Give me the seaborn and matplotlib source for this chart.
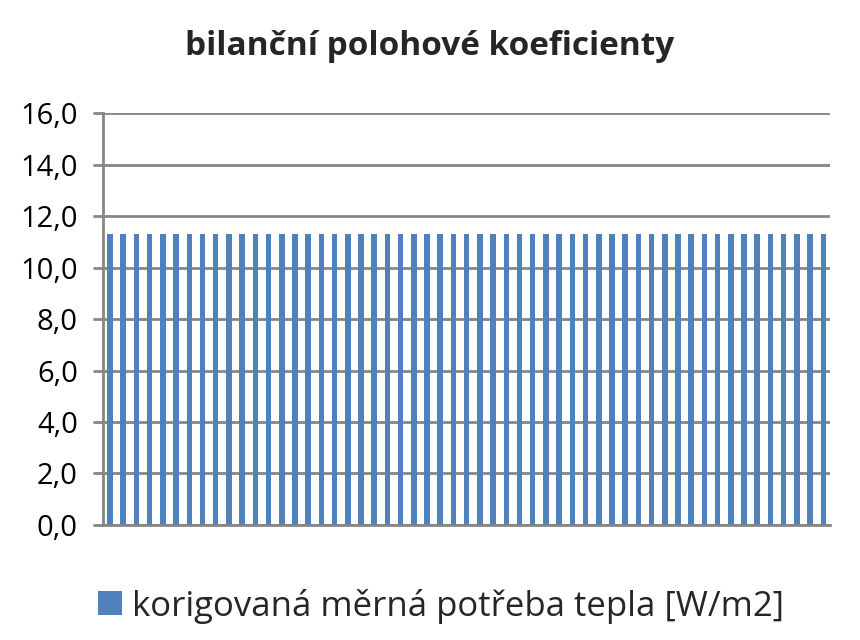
import matplotlib
matplotlib.use('Agg')
import matplotlib.pyplot as plt
import matplotlib.ticker as mticker
from matplotlib.patches import Patch
import seaborn as sns
import pandas as pd

# data: 55 categories, all the same value
categories = [str(i) for i in range(1, 56)]
values = [
    11.3, 11.3, 11.3, 11.3, 11.3, 11.3, 11.3, 11.3, 11.3, 11.3, 11.3,
    11.3, 11.3, 11.3, 11.3, 11.3, 11.3, 11.3, 11.3, 11.3, 11.3, 11.3,
    11.3, 11.3, 11.3, 11.3, 11.3, 11.3, 11.3, 11.3, 11.3, 11.3, 11.3,
    11.3, 11.3, 11.3, 11.3, 11.3, 11.3, 11.3, 11.3, 11.3, 11.3, 11.3,
    11.3, 11.3, 11.3, 11.3, 11.3, 11.3, 11.3, 11.3, 11.3, 11.3, 11.3,
]
series_name = 'korigovaná měrná potřeba tepla [W/m2]'
title = 'bilanční polohové koeficienty'
yticks = [0, 2, 4, 6, 8, 10, 12, 14, 16]

bar_color = '#4F81BD'
grid_color = '#868686'

sns.set_theme(style='white')
plt.rcParams['font.family'] = ['Open Sans', 'DejaVu Sans']

df = pd.DataFrame({'cat': categories, 'val': values})

fig = plt.figure(figsize=(8.6, 6.4), dpi=100)
ax = fig.add_axes([0.1203, 0.1797, 0.965 - 0.1203, 0.8234 - 0.1797])

sns.barplot(data=df, x='cat', y='val', color=bar_color, width=0.42,
            saturation=1, linewidth=0, ax=ax, zorder=3)

ax.set_xlim(-0.5, len(categories) - 0.5)
ax.set_ylim(0, 16)
ax.set_yticks(yticks)
ax.yaxis.set_major_formatter(mticker.FuncFormatter(lambda v, p: f'{v:.1f}'.replace('.', ',')))
ax.set_xticks([])
ax.set_xlabel('')
ax.set_ylabel('')

ax.yaxis.grid(True, color=grid_color, linewidth=2, zorder=0)
ax.set_axisbelow(True)
for s in ['top', 'right']:
    ax.spines[s].set_visible(False)
ax.spines['left'].set_color(grid_color)
ax.spines['left'].set_linewidth(2)
ax.spines['bottom'].set_color(grid_color)
ax.spines['bottom'].set_linewidth(2)
ax.spines['bottom'].set_zorder(4)
ax.tick_params(axis='y', left=True, length=7.5, width=2, color=grid_color,
               labelsize=21, pad=11, labelcolor='black')

fig.text(0.5, 0.928, title, ha='center', va='center', fontsize=24, fontweight='bold')

handle = Patch(facecolor=bar_color, edgecolor='none')
fig.legend([handle], [series_name], loc='center', bbox_to_anchor=(0.513, 0.053),
           frameon=False, fontsize=25, handlelength=0.68, handleheight=0.68,
           handletextpad=0.3)

fig.savefig('out.png', dpi=100)
